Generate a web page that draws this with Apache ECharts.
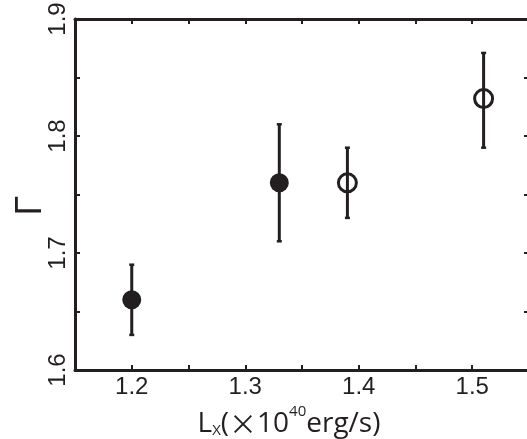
<!DOCTYPE html>
<html><head><meta charset="utf-8">
<script src="https://cdn.jsdelivr.net/npm/echarts@6/dist/echarts.min.js"></script>
<style>html,body{margin:0;padding:0;background:#fff}#c{width:527px;height:439px}</style>
</head><body><div id="c"></div>
<script>
const xTicks = ['1.2', '1.3', '1.4', '1.5'];
const yTicks = ['1.6', '1.7', '1.8', '1.9'];
const filledX = [1.20, 1.33];
const filledY = [1.66, 1.76];
const filledLow = [1.63, 1.71];
const filledHigh = [1.69, 1.81];
const openX = [1.39, 1.51];
const openY = [1.76, 1.832];
const openLow = [1.73, 1.79];
const openHigh = [1.79, 1.871];

const C = '#231f20';
const tickFont = '"Liberation Sans", Arial, sans-serif';
const nameFont = '"Open Sans", sans-serif';

function labelFn(list) {
  return function (v) {
    const lab = (+v.toFixed(1)).toFixed(1);
    if (Math.abs(v - +lab) < 1e-6 && list.indexOf(lab) >= 0) return lab;
    return '';
  };
}

const errData = [];
filledX.forEach((x, i) => errData.push([x, filledLow[i], filledHigh[i]]));
openX.forEach((x, i) => errData.push([x, openLow[i], openHigh[i]]));

function renderErr(params, api) {
  const x = api.value(0), lo = api.value(1), hi = api.value(2);
  const p1 = api.coord([x, lo]), p2 = api.coord([x, hi]);
  const cap = 2.5;
  return {
    type: 'group',
    children: [
      { type: 'line', shape: { x1: p1[0], y1: p1[1], x2: p2[0], y2: p2[1] }, style: { stroke: C, lineWidth: 3 } },
      { type: 'line', shape: { x1: p1[0] - cap, y1: p1[1], x2: p1[0] + cap, y2: p1[1] }, style: { stroke: C, lineWidth: 2.5 } },
      { type: 'line', shape: { x1: p2[0] - cap, y1: p2[1], x2: p2[0] + cap, y2: p2[1] }, style: { stroke: C, lineWidth: 2.5 } }
    ]
  };
}

const axisLine = { show: true, lineStyle: { color: C, width: 3 } };
const axisTick = { show: true, inside: true, length: 5, lineStyle: { color: C, width: 2 } };

const chart = echarts.init(document.getElementById('c'), null, { renderer: 'canvas' });
chart.setOption({
  animation: false,
  backgroundColor: '#fff',
  grid: { left: 75, top: 19, width: 454, height: 351, containLabel: false, outerBoundsMode: 'none' },
  xAxis: [{
    type: 'value', min: 1.15, max: 1.55, interval: 0.05, position: 'bottom',
    axisLine, axisTick, splitLine: { show: false },
    axisLabel: { formatter: labelFn(xTicks), color: C, fontSize: 24, fontFamily: tickFont, margin: 5, showMinLabel: true, showMaxLabel: true },
    name: '{L|L}{s|X}{m|(}{x|×}{m|10}{p|40}{m|erg/s)}',
    nameLocation: 'middle', nameGap: 33,
    nameTextStyle: {
      fontSize: 28, fontFamily: nameFont, color: C,
      padding: [0, 26, 0, 0],
      rich: {
        L: { fontSize: 28, fontFamily: nameFont, color: C, verticalAlign: 'bottom', lineHeight: 34 },
        s: { fontSize: 15, fontFamily: nameFont, color: C, verticalAlign: 'bottom', lineHeight: 34 },
        m: { fontSize: 28, fontFamily: nameFont, color: C, verticalAlign: 'bottom', lineHeight: 34 },
        x: { fontSize: 28, fontFamily: '"Noto Sans CJK JP", sans-serif', color: C, verticalAlign: 'bottom', lineHeight: 34 },
        p: { fontSize: 15, fontFamily: nameFont, color: C, verticalAlign: 'top', lineHeight: 34 }
      }
    }
  }, {
    type: 'value', min: 1.15, max: 1.55, interval: 0.05, position: 'top',
    axisLine, axisTick, axisLabel: { show: false }, splitLine: { show: false }
  }],
  yAxis: [{
    type: 'value', min: 1.6, max: 1.9, interval: 0.05, position: 'left',
    axisLine, axisTick, splitLine: { show: false },
    axisLabel: { formatter: labelFn(yTicks), color: C, fontSize: 24, fontFamily: tickFont, rotate: 90, margin: 5, showMinLabel: true, showMaxLabel: true },
    name: '{g|Γ}', nameLocation: 'middle', nameGap: 26, nameMoveOverlap: false,
    nameTextStyle: { fontSize: 36, fontFamily: tickFont, color: C,
      rich: { g: { fontSize: 36, fontFamily: tickFont, color: C, padding: [0, 22, 0, 0] } } }
  }, {
    type: 'value', min: 1.6, max: 1.9, interval: 0.05, position: 'right',
    axisLine, axisTick, axisLabel: { show: false }, splitLine: { show: false }
  }],
  series: [
    { type: 'custom', renderItem: renderErr, data: errData, clip: false, z: 2 },
    {
      type: 'scatter', symbol: 'circle', symbolSize: 19, z: 3,
      itemStyle: { color: C, opacity: 1 },
      data: filledX.map((x, i) => [x, filledY[i]])
    },
    {
      type: 'scatter', symbol: 'circle', symbolSize: 18, z: 3,
      itemStyle: { color: 'rgba(255,255,255,0)', borderColor: C, borderWidth: 3, opacity: 1 },
      data: openX.map((x, i) => [x, openY[i]])
    }
  ]
});
</script>
</body></html>
